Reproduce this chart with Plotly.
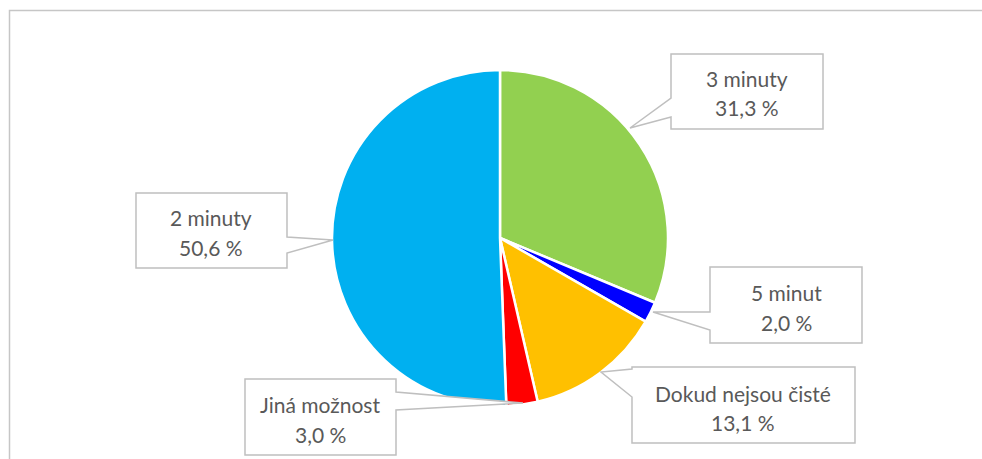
import plotly.graph_objects as go

# Survey answers, clockwise from 12 o'clock
categories = ["3 minuty", "5 minut", "Dokud nejsou čisté", "Jiná možnost", "2 minuty"]
shares = [31.3, 2.0, 13.1, 3.0, 50.6]
colors = ["#92D050", "#0000FF", "#FFC000", "#FF0000", "#00B0F0"]

W, H = 982, 459


def fx(x):
    return x / W


def fy(y):
    return 1 - y / H


def path(points):
    pts = [f"{fx(x):.5f},{fy(y):.5f}" for x, y in points]
    return "M " + " L ".join(pts) + " Z"


# Callout outlines (box + pointer) and text line positions, in pixels
callouts = {
    "3 minuty": dict(
        outline=[(671, 54), (823, 54), (823, 129), (671, 129), (671, 117), (630, 128), (671, 98)],
        cx=747, lines=(78, 107)),
    "5 minut": dict(
        outline=[(710, 267), (862, 267), (862, 343), (710, 343), (710, 330), (653, 312), (710, 312)],
        cx=786, lines=(292, 322)),
    "Dokud nejsou čisté": dict(
        outline=[(632, 367), (855, 367), (855, 443), (632, 443), (632, 397), (601, 372), (632, 369)],
        cx=743, lines=(393, 422)),
    "Jiná možnost": dict(
        outline=[(245, 379), (396, 379), (396, 392), (523, 403), (396, 410), (396, 455), (245, 455)],
        cx=320, lines=(404, 434)),
    "2 minuty": dict(
        outline=[(136, 193), (287, 193), (287, 237), (333, 240), (287, 253), (287, 268), (136, 268)],
        cx=211, lines=(217, 247)),
}

cx, cy, r = 500, 238, 168

fig = go.Figure(
    go.Pie(
        labels=categories,
        values=shares,
        sort=False,
        direction="clockwise",
        rotation=0,
        marker=dict(colors=colors, line=dict(color="white", width=2.5)),
        textinfo="none",
        hovertemplate="%{label}: %{value:.1f} %<extra></extra>",
        domain=dict(x=[fx(cx - r), fx(cx + r)], y=[fy(cy + r), fy(cy - r)]),
        showlegend=False,
    )
)

shapes = [
    # chart frame
    dict(type="rect", xref="paper", yref="paper",
         x0=fx(9.5), y0=fy(470), x1=fx(995), y1=fy(10.5),
         line=dict(color="#C6C6C6", width=1.5), fillcolor="rgba(0,0,0,0)", layer="below"),
]
annotations = []
font = dict(family="Lato, Open Sans, sans-serif", size=21, color="#595959")

for name, value in zip(categories, shares):
    c = callouts[name]
    shapes.append(dict(type="path", xref="paper", yref="paper", path=path(c["outline"]),
                       fillcolor="white", line=dict(color="#BFBFBF", width=1.5), layer="above"))
    value_text = f"{value:.1f}".replace(".", ",") + " %"
    for text, y in zip((name, value_text), c["lines"]):
        annotations.append(dict(x=fx(c["cx"]), y=fy(y), xref="paper", yref="paper",
                                text=text, showarrow=False, xanchor="center", yanchor="middle",
                                font=font))

fig.update_layout(
    width=W, height=H,
    margin=dict(l=0, r=0, t=0, b=0),
    paper_bgcolor="white",
    plot_bgcolor="white",
    shapes=shapes,
    annotations=annotations,
)

fig.write_html("out.html")
